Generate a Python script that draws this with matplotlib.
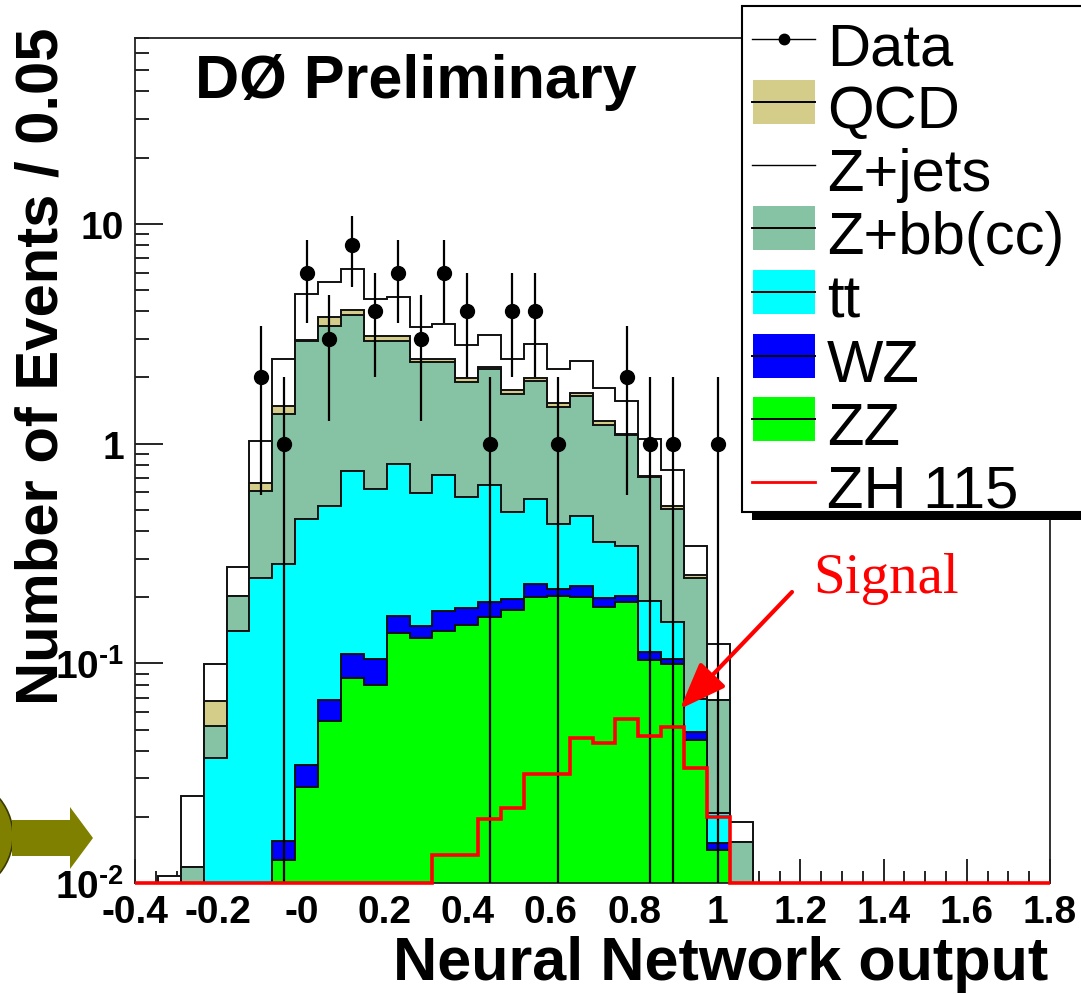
import numpy as np
import matplotlib.pyplot as plt
from matplotlib.patches import Rectangle, Circle, Polygon
from matplotlib.ticker import FixedLocator, MultipleLocator, LogLocator, NullFormatter

plt.rcParams['font.family'] = ['Liberation Sans', 'DejaVu Sans']
plt.rcParams['font.weight'] = 'bold'
plt.rcParams['mathtext.fontset'] = 'custom'
plt.rcParams['mathtext.rm'] = 'Liberation Sans:bold'
plt.rcParams['mathtext.it'] = 'Liberation Sans:bold'
plt.rcParams['mathtext.bf'] = 'Liberation Sans:bold'

# binning: 40 bins between -0.4 and 1.8
x_lo, x_hi, n_bins = -0.4, 1.8, 40

# per-bin yields (bins 0..39)
zz = [0, 0, 0, 0, 0, 0, 0.0127, 0.0275, 0.055, 0.0863, 0.0799, 0.1375, 0.130, 0.141,
      0.150, 0.163, 0.175, 0.200, 0.203, 0.200, 0.181, 0.190, 0.104, 0.0996, 0.0449,
      0.0142, 0, 0, 0, 0, 0, 0, 0, 0, 0, 0, 0, 0, 0, 0]
wz = [0, 0, 0, 0, 0, 0, 0.0029, 0.007, 0.0132, 0.0237, 0.0248, 0.0275, 0.018, 0.032,
      0.029, 0.028, 0.021, 0.030, 0.015, 0.026, 0.018, 0.013, 0.0086, 0.0051, 0.004,
      0.0011, 0, 0, 0, 0, 0, 0, 0, 0, 0, 0, 0, 0, 0, 0]
tt = [0, 0, 0, 0.037, 0.141, 0.246, 0.268, 0.418, 0.452, 0.64, 0.518, 0.64, 0.45, 0.544,
      0.392, 0.454, 0.292, 0.327, 0.215, 0.242, 0.157, 0.138, 0.080, 0.050, 0.020,
      0.0055, 0, 0, 0, 0, 0, 0, 0, 0, 0, 0, 0, 0, 0, 0]
zbb = [0, 0, 0.0119, 0.015, 0.061, 0.362, 1.076, 2.488, 2.92, 3.10, 2.317, 2.135, 1.762,
       1.633, 1.329, 1.535, 1.192, 1.373, 1.027, 1.182, 0.864, 0.759, 0.514, 0.351,
       0.176, 0.0474, 0.0154, 0, 0, 0, 0, 0, 0, 0, 0, 0, 0, 0, 0, 0]
qcd = [0, 0, 0, 0.0156, 0, 0.056, 0.12, 0.03, 0.34, 0.20, 0.14, 0.14, 0.06, 0.07, 0.09,
       0.06, 0.08, 0.06, 0.07, 0.05, 0.05, 0.01, 0.003, 0.017, 0.008, 0, 0, 0, 0, 0,
       0, 0, 0, 0, 0, 0, 0, 0, 0, 0]
zjets = [0, 0.0108, 0.013, 0.032, 0.072, 0.366, 0.94, 1.83, 1.64, 2.19, 1.47, 1.55, 0.96,
         1.08, 0.82, 0.88, 0.66, 0.85, 0.65, 0.68, 0.53, 0.46, 0.34, 0.233, 0.091, 0.055,
         0.0036, 0, 0, 0, 0, 0, 0, 0, 0, 0, 0, 0, 0, 0]
data = [0, 0, 0, 0, 0, 2, 1, 6, 3, 8, 4, 6, 3, 6, 4, 1, 4, 4, 1, 0, 0, 2, 1, 1, 0, 1, 0,
        0, 0, 0, 0, 0, 0, 0, 0, 0, 0, 0, 0, 0]
zh115 = [0, 0, 0, 0, 0, 0, 0, 0, 0, 0, 0, 0, 0, 0.0134, 0.0134, 0.0197, 0.0219, 0.0314,
         0.0314, 0.0456, 0.0433, 0.0559, 0.0468, 0.0516, 0.0333, 0.020, 0, 0, 0, 0, 0,
         0, 0, 0, 0, 0, 0, 0, 0, 0]

xtick_vals = [-0.4, -0.2, 0.0, 0.2, 0.4, 0.6, 0.8, 1.0, 1.2, 1.4, 1.6, 1.8]
xtick_labels = ['-0.4', '-0.2', '-0', '0.2', '0.4', '0.6', '0.8', '1', '1.2', '1.4', '1.6', '1.8']
ytick_vals = [0.01, 0.1, 1, 10]
ytick_labels = [r'10$^{\text{-}2}$', r'10$^{\text{-}1}$', '1', '10']

legend_names = ['Data', 'QCD', 'Z+jets', 'Z+bb(cc)', 'tt', 'WZ', 'ZZ', 'ZH 115']

c_zz, c_wz, c_tt, c_zbb, c_qcd = '#00ff00', '#0000ff', '#00ffff', '#86c2a4', '#d4cd8a'

W, H = 1081, 995
fig = plt.figure(figsize=(W / 100, H / 100), dpi=100)


def fx(x):
    return x / W


def fy(y):
    return 1 - y / H


ax = fig.add_axes([fx(135), fy(884.3), fx(1050) - fx(135), fy(39) - fy(884.3)])
ax.set_yscale('log')
ax.set_xlim(x_lo, x_hi)
ax.set_ylim(0.01, 70)

edges = np.linspace(x_lo, x_hi, n_bins + 1)
centers = 0.5 * (edges[:-1] + edges[1:])

# stacked backgrounds, drawn top layer first like ROOT does
layers = [(zz, c_zz), (wz, c_wz), (tt, c_tt), (zbb, c_zbb), (qcd, c_qcd), (zjets, 'white')]
cum = np.cumsum([np.array(v, dtype=float) for v, _ in layers], axis=0)
for k in reversed(range(len(layers))):
    vals = np.where(cum[k] > 0, cum[k], 1e-6)
    ax.stairs(vals, edges, baseline=1e-6, fill=True, facecolor=layers[k][1],
              edgecolor='#111111', lw=1.4, zorder=2)

# data points
d = np.array(data, dtype=float)
m = d > 0
err = np.sqrt(d)
lo = np.minimum(err, d - 1e-6)
ax.errorbar(centers[m], d[m], yerr=[lo[m], err[m]], fmt='o', color='black', ms=10,
            elinewidth=1.6, capsize=0, zorder=5)

# signal
ax.stairs(np.maximum(np.array(zh115), 0.01), edges, baseline=None, color='red', lw=2.6,
          zorder=6, clip_on=False)

ax.xaxis.set_major_locator(FixedLocator(xtick_vals))
ax.set_xticklabels(xtick_labels)
ax.xaxis.set_minor_locator(MultipleLocator(0.05))
ax.yaxis.set_major_locator(FixedLocator(ytick_vals))
ax.set_yticklabels(ytick_labels)
ax.yaxis.set_minor_locator(LogLocator(base=10, subs=np.arange(2, 10)))
ax.yaxis.set_minor_formatter(NullFormatter())
ax.tick_params(axis='x', which='major', direction='in', length=17, width=1.2,
               labelsize=28, pad=8)
ax.tick_params(axis='x', which='minor', direction='in', length=8.5, width=1.2)
ax.tick_params(axis='y', which='major', direction='in', length=20, width=1.2,
               labelsize=28, pad=8)
ax.tick_params(axis='y', which='minor', direction='in', length=10, width=1.2)
for s in ax.spines.values():
    s.set_linewidth(1.3)
    s.set_color('#222222')

# overlay in pixel coordinates for labels, legend and annotations
ov = fig.add_axes([0, 0, 1, 1])
ov.set_xlim(0, W)
ov.set_ylim(H, 0)
ov.axis('off')

ov.text(42, 28, 'Number of Events / 0.05', rotation=90, ha='center', va='top',
        fontsize=43, fontweight='bold')
ov.text(1048, 980, 'Neural Network output', ha='right', va='baseline',
        fontsize=44, fontweight='bold')
ov.text(195, 98, 'DØ Preliminary', ha='left', va='baseline', fontsize=44,
        fontweight='bold')

# legend box with shadow
ov.add_patch(Rectangle((752, 17), 420, 504, facecolor='black', edgecolor='none',
                       clip_on=False))
ov.add_patch(Rectangle((742, 7), 420, 506, facecolor='white', edgecolor='black',
                       lw=1.5, clip_on=False))
rows = [40, 103, 166, 229, 293, 357, 420, 483]
fills = [None, c_qcd, None, c_zbb, c_tt, c_wz, c_zz, None]
for name, yc, fc in zip(legend_names, rows, fills):
    if fc is not None:
        ov.add_patch(Rectangle((753, yc - 22), 62, 44, facecolor=fc, edgecolor='none'))
    if name == 'ZH 115':
        ov.plot([752, 815], [yc, yc], color='red', lw=2)
    else:
        ov.plot([752, 815], [yc, yc], color='black', lw=1.4 if fc is not None else 1.0)
    if name == 'Data':
        ov.plot([784], [yc], 'o', color='black', ms=7.5)
    ov.text(827, yc + 25, name, ha='left', va='baseline', fontsize=43,
            fontweight='normal')

# signal annotation
ov.text(813, 593, 'Signal', family='Liberation Serif', fontsize=41, color='red',
        fontweight='normal', ha='left', va='baseline')
ov.annotate('', xy=(680, 710), xytext=(792, 593),
            arrowprops=dict(arrowstyle='-|>,head_length=1.45,head_width=0.55',
                            color='red', lw=3, shrinkA=0, shrinkB=0, mutation_scale=20))

# olive arrow on the left edge
ov.add_patch(Circle((-46, 837), 59, facecolor='#808000', edgecolor='#3a3a00', lw=1.2,
                    clip_on=False))
ov.add_patch(Polygon([(12, 821), (70, 821), (70, 808), (93, 839), (70, 870), (70, 857),
                      (12, 857)], closed=True, facecolor='#808000', edgecolor='none'))

fig.savefig('out.png', dpi=100)
